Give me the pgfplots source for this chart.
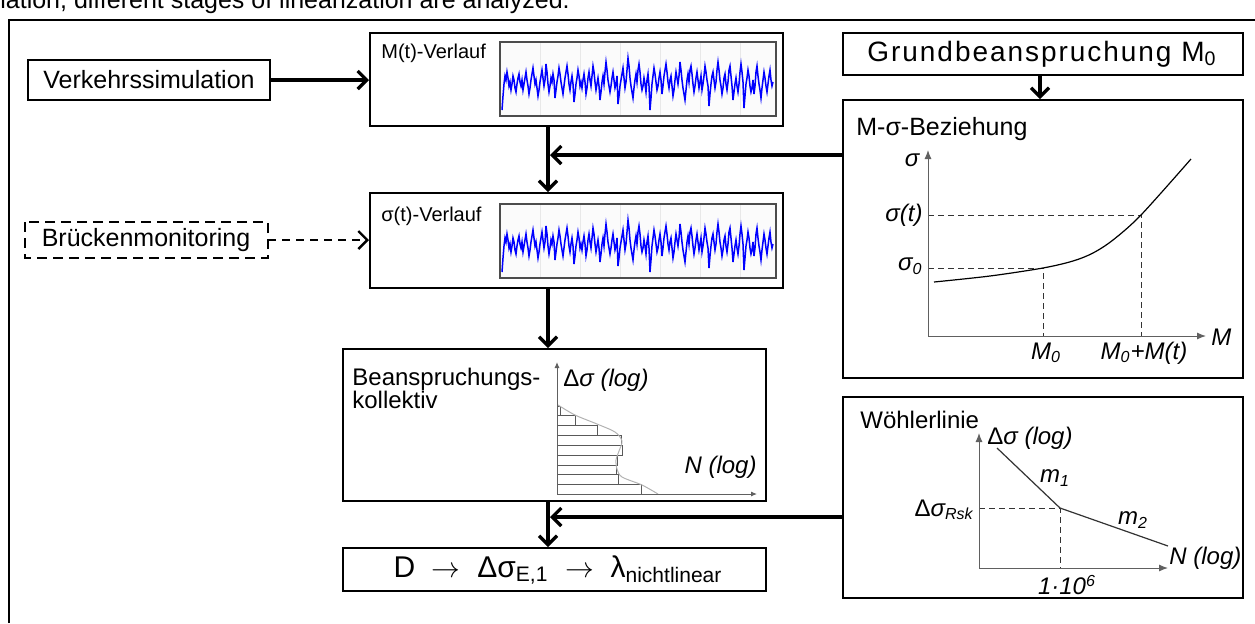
\documentclass[border=0pt]{standalone}
\usepackage{fontspec}
\setmainfont{Liberation Sans}
\usepackage{pgfplots}
\usepackage{pgfplotstable}
\pgfplotsset{compat=1.18}
\usetikzlibrary{arrows.meta}

% blue load signal (pixel coordinates of the M(t) inset)
\pgfplotstableread[row sep=\\]{
x y\\
502 110\\ 503 96\\ 504 84\\ 505 76\\ 506 80\\ 507 72\\ 508 78\\ 509 86\\ 510 82\\ 511 90\\
512 84\\ 513 76\\ 514 80\\ 515 88\\ 516 92\\ 517 84\\ 518 78\\ 519 74\\ 520 82\\ 521 86\\
522 80\\ 523 90\\ 524 84\\ 525 78\\ 526 72\\ 527 80\\ 528 86\\ 529 94\\ 530 88\\ 531 80\\
532 74\\ 533 68\\ 534 76\\ 535 84\\ 536 80\\ 537 88\\ 538 96\\ 539 90\\ 540 82\\ 541 76\\
542 70\\ 543 78\\ 544 86\\ 545 80\\ 546 64\\ 547 72\\ 548 84\\ 549 92\\ 550 86\\ 551 78\\
552 82\\ 553 74\\ 554 80\\ 555 98\\ 556 90\\ 557 82\\ 558 76\\ 559 68\\ 560 74\\ 561 82\\
562 88\\ 563 94\\ 564 86\\ 565 78\\ 566 72\\ 567 66\\ 568 74\\ 569 84\\ 570 90\\ 571 82\\
572 76\\ 573 84\\ 574 102\\ 575 94\\ 576 84\\ 577 78\\ 578 70\\ 579 76\\ 580 86\\ 581 82\\
582 88\\ 583 80\\ 584 74\\ 585 82\\ 586 94\\ 587 88\\ 588 78\\ 589 72\\ 590 80\\ 591 86\\
592 76\\ 593 66\\ 594 72\\ 595 82\\ 596 90\\ 597 84\\ 598 78\\ 599 86\\ 600 100\\ 601 92\\
602 82\\ 603 76\\ 604 84\\ 605 72\\ 606 62\\ 607 70\\ 608 80\\ 609 86\\ 610 92\\ 611 86\\
612 78\\ 613 72\\ 614 80\\ 615 88\\ 616 84\\ 617 76\\ 618 104\\ 619 96\\ 620 86\\ 621 80\\
622 74\\ 623 68\\ 624 78\\ 625 88\\ 626 82\\ 627 70\\ 628 58\\ 629 66\\ 630 78\\ 631 86\\
632 92\\ 633 98\\ 634 88\\ 635 80\\ 636 74\\ 637 82\\ 638 70\\ 639 64\\ 640 72\\ 641 84\\
642 90\\ 643 86\\ 644 78\\ 645 84\\ 646 92\\ 647 80\\ 648 74\\ 649 86\\ 650 110\\ 651 98\\
652 84\\ 653 76\\ 654 68\\ 655 74\\ 656 82\\ 657 90\\ 658 86\\ 659 78\\ 660 72\\ 661 80\\
662 94\\ 663 86\\ 664 76\\ 665 70\\ 666 64\\ 667 72\\ 668 82\\ 669 88\\ 670 80\\ 671 76\\
672 86\\ 673 96\\ 674 90\\ 675 80\\ 676 72\\ 677 78\\ 678 84\\ 679 76\\ 680 62\\ 681 70\\
682 80\\ 683 88\\ 684 94\\ 685 100\\ 686 90\\ 687 80\\ 688 74\\ 689 82\\ 690 70\\ 691 66\\
692 74\\ 693 84\\ 694 92\\ 695 86\\ 696 78\\ 697 72\\ 698 80\\ 699 88\\ 700 82\\ 701 76\\
702 90\\ 703 84\\ 704 76\\ 705 66\\ 706 72\\ 707 80\\ 708 86\\ 709 106\\ 710 94\\ 711 84\\
712 76\\ 713 72\\ 714 80\\ 715 88\\ 716 82\\ 717 70\\ 718 62\\ 719 70\\ 720 80\\ 721 86\\
722 94\\ 723 88\\ 724 78\\ 725 74\\ 726 84\\ 727 90\\ 728 82\\ 729 70\\ 730 66\\ 731 76\\
732 86\\ 733 100\\ 734 92\\ 735 84\\ 736 78\\ 737 86\\ 738 92\\ 739 84\\ 740 72\\ 741 64\\
742 72\\ 743 82\\ 744 108\\ 745 96\\ 746 84\\ 747 78\\ 748 70\\ 749 76\\ 750 86\\ 751 92\\
752 88\\ 753 80\\ 754 94\\ 755 86\\ 756 72\\ 757 66\\ 758 76\\ 759 84\\ 760 90\\ 761 98\\
762 88\\ 763 80\\ 764 72\\ 765 78\\ 766 86\\ 767 92\\ 768 84\\ 769 76\\ 770 70\\ 771 80\\
772 86\\ 773 82\\
}\sigtable

\newcommand{\fsA}{\fontsize{12.5}{15}\selectfont}
\newcommand{\fsB}{\fontsize{12}{14}\selectfont}
\newcommand{\fsC}{\fontsize{10}{12}\selectfont}

\begin{document}
\begin{tikzpicture}[
  box/.style={draw=black, line width=1.4pt},
  arr/.style={line width=1.6pt, -{Straight Barb[length=4.5pt,width=9pt]}},
  dasharr/.style={line width=1.2pt, dash pattern=on 4pt off 3pt, -{Straight Barb[length=4.5pt,width=9pt]}},
  ax/.style={draw=gray!75!black, line width=0.5pt, -{Latex[length=4.5pt,width=3.5pt]}},
  hax/.style={draw=gray!75!black, line width=0.5pt, -{Latex[length=3pt,width=2.5pt]}},
  dsh/.style={draw=black!80, line width=0.5pt, dash pattern=on 3pt off 2pt},
]
\useasboundingbox (0,0) rectangle (627.5pt,311.5pt);
\begin{axis}[at={(0,0)}, anchor=south west, scale only axis,
  width=627.5pt, height=311.5pt,
  xmin=0, xmax=1255, ymin=0, ymax=623, y dir=reverse,
  hide axis, clip=false]

% cut-off text above the frame and outer frame
\node[anchor=base west, inner sep=0pt, font=\fsA] at (0,8) {lation, different stages of linearization are analyzed.};
\draw[line width=1pt] (9,623) -- (9,20) -- (1255,20);

% ---------- left column ----------
\draw[box] (28,60) rectangle (270,100);
\node[font=\fsA] at (149,80) {Verkehrssimulation};
\draw[arr] (270,80) -- (369,80);

\draw[line width=1.2pt, dash pattern=on 5pt off 3pt] (25,222) rectangle (268,258);
\node[font=\fsA] at (146,240) {Brückenmonitoring};
\draw[dasharr] (268,240) -- (369,240);

% M(t) box
\draw[box] (370,33) rectangle (783,126);
\node[anchor=base west, font=\fsC, inner sep=0pt] at (381,58) {M(t)-Verlauf};
\draw[draw=gray!60!black, line width=0.6pt, fill=gray!3] (500,42) rectangle (776,116);
\pgfplotsinvokeforeach{540,580,620,660,700,740}{\draw[gray!18, line width=0.3pt] (#1,43) -- (#1,115);}
\addplot[blue, line width=0.75pt] table[x=x, y=y] {\sigtable};

\draw[arr] (548,126) -- (548,192);
\draw[arr] (843,155) -- (550,155);

% sigma(t) box
\draw[box] (370,193) rectangle (783,288);
\node[anchor=base west, font=\fsC, inner sep=0pt] at (381,221) {σ(t)-Verlauf};
\draw[draw=gray!60!black, line width=0.6pt, fill=gray!3] (500,204) rectangle (776,278);
\pgfplotsinvokeforeach{540,580,620,660,700,740}{\draw[gray!18, line width=0.3pt] (#1,205) -- (#1,277);}
\addplot[blue, line width=0.75pt] table[x=x, y expr=\thisrow{y}+162] {\sigtable};

\draw[arr] (548,288) -- (548,348);

% Beanspruchungskollektiv
\draw[box] (343,349) rectangle (766,501);
\node[anchor=base west, font=\fsB, inner sep=0pt] at (352,385) {Beanspruchungs-};
\node[anchor=base west, font=\fsB, inner sep=0pt] at (352,408) {kollektiv};
\addplot[gray!70!black, line width=0.5pt, unbounded coords=jump] coordinates {
 (557,406) (560.7,406) (560.7,415.3) (557,415.3) (nan,nan)
 (557,415.3) (575.3,415.3) (575.3,425) (557,425) (nan,nan)
 (557,425) (597.3,425) (597.3,435) (557,435) (nan,nan)
 (557,435) (621.7,435) (621.7,445) (557,445) (nan,nan)
 (557,445) (622.7,445) (622.7,455.3) (557,455.3) (nan,nan)
 (557,455.3) (617.7,455.3) (617.7,465.3) (557,465.3) (nan,nan)
 (557,465.3) (616,465.3) (616,474.7) (557,474.7) (nan,nan)
 (557,474.7) (618.3,474.7) (618.3,484) (557,484) (nan,nan)
 (557,484) (641.7,484) (641.7,494) (557,494)
};
\addplot[gray!60, line width=0.5pt, smooth] coordinates {
 (558,405) (575,415) (597,424) (615,432) (622,441) (619,451) (616,460) (617,469) (622,477) (642,485) (658,494)};
\draw[hax] (557,494) -- (557,362);
\draw[hax] (557,494) -- (757,494);
\node[anchor=west, font=\fsB\itshape, inner sep=0pt] at (563,380) {{\upshape Δ}σ (log)};
\node[anchor=east, font=\fsB\itshape, inner sep=0pt] at (757,467) {N (log)};

\draw[arr] (548,501) -- (548,547);
\draw[arr] (843,517) -- (550,517);

% result box
\draw[box] (343,548) rectangle (766,591);
\node[font=\fontsize{15}{17}\selectfont] at (558,570) {D\ \ $\rightarrow$\ \ Δσ\textsubscript{E,1}\ \ $\rightarrow$\ \ λ\textsubscript{nichtlinear}};

% ---------- right column ----------
\draw[box] (843,33) rectangle (1243,75);
\node[font=\fontsize{14}{16}\selectfont\addfontfeatures{LetterSpace=7}] at (1042,54) {Grundbeanspruchung M\textsubscript{0}};
\draw[arr] (1040,75) -- (1040,99);

% M-sigma relation
\draw[box] (843,100) rectangle (1243,378);
\node[anchor=base west, font=\fsA, inner sep=0pt] at (856,135) {M-σ-Beziehung};
\draw[dsh] (928,268) -- (1043,268) -- (1043,336);
\draw[dsh] (928,215) -- (1141,215) -- (1141,336);
\addplot[black, line width=0.6pt, smooth] coordinates {
 (934,282) (990,276) (1043,268) (1073,261) (1093,253) (1113,240) (1141,215) (1191,159)};
\draw[ax] (928,336) -- (928,150);
\draw[ax] (928,336) -- (1206,336);
\node[font=\fsB\itshape] at (912,160) {σ};
\node[anchor=east, font=\fsB\itshape, inner sep=1pt] at (925,215) {σ(t)};
\node[anchor=east, font=\fsB\itshape, inner sep=1pt] at (925,266) {σ\textsubscript{0}};
\node[font=\fsB\itshape] at (1046,353) {M\textsubscript{0}};
\node[font=\fsB\itshape] at (1144,353) {M\textsubscript{0}+M(t)};
\node[anchor=west, font=\fsB\itshape, inner sep=0pt] at (1211,337) {M};

% Woehler line
\draw[box] (843,397) rectangle (1243,598);
\node[anchor=base west, font=\fsB, inner sep=0pt] at (860,428) {Wöhlerlinie};
\draw[dsh] (979,508) -- (1060,508) -- (1060,568);
\addplot[gray!40!black, line width=0.6pt] coordinates {(997,448) (1060,508) (1168,546)};
\draw[ax] (979,568) -- (979,433);
\draw[ax] (979,568) -- (1168,568);
\node[anchor=west, font=\fsB\itshape, inner sep=0pt] at (987,438) {{\upshape Δ}σ (log)};
\node[font=\fsB\itshape] at (1055,478) {m\textsubscript{1}};
\node[anchor=east, font=\fsB\itshape, inner sep=1pt] at (976,510) {{\upshape Δ}σ\textsubscript{Rsk}};
\node[font=\fsB\itshape] at (1133,520) {m\textsubscript{2}};
\node[anchor=west, font=\fsB\itshape, inner sep=0pt] at (1169,558) {N (log)};
\node[font=\fsB\itshape] at (1067,585) {1·10\textsuperscript{6}};

\end{axis}
\end{tikzpicture}
\end{document}
